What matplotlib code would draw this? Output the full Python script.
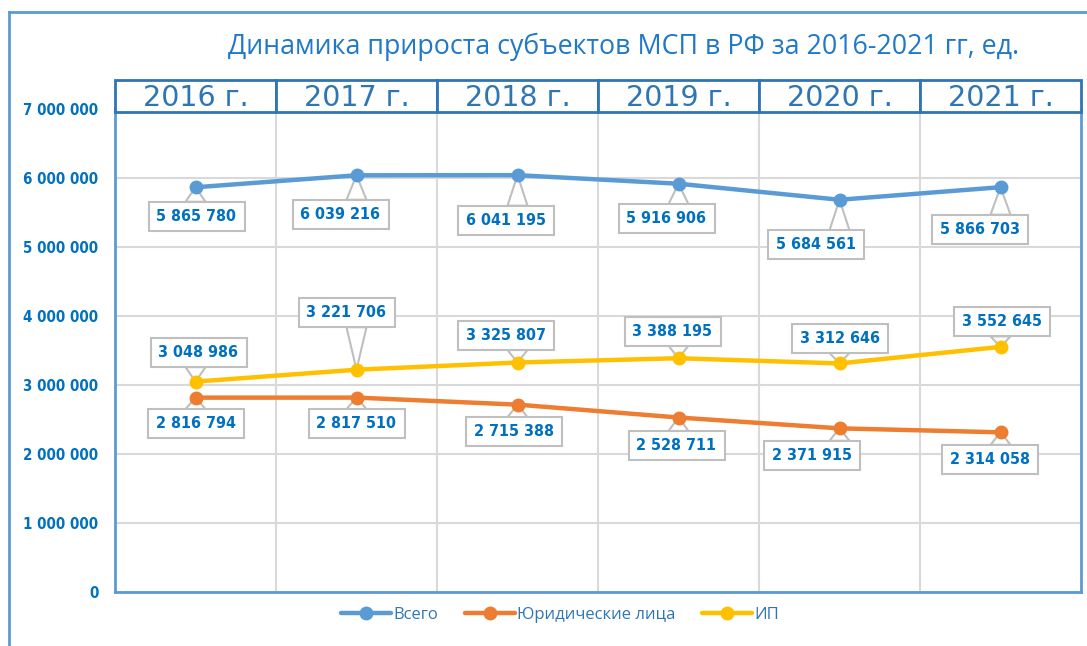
import matplotlib
matplotlib.use("Agg")
import matplotlib.pyplot as plt
from matplotlib.patches import Rectangle, Polygon
from matplotlib.lines import Line2D
from matplotlib.transforms import IdentityTransform

years = ["2016 г.", "2017 г.", "2018 г.", "2019 г.", "2020 г.", "2021 г."]
vsego = [5865780, 6039216, 6041195, 5916906, 5684561, 5866703]
yur = [2816794, 2817510, 2715388, 2528711, 2371915, 2314058]
ip = [3048986, 3221706, 3325807, 3388195, 3312646, 3552645]
series_names = ["Всего", "Юридические лица", "ИП"]
yticks = [0, 1000000, 2000000, 3000000, 4000000, 5000000, 6000000, 7000000]
title = "Динамика прироста субъектов МСП в РФ за 2016-2021 гг, ед."

colors = ["#5B9BD5", "#ED7D31", "#FFC000"]
# label box-center offsets (pixels, y up) from each point
off_vsego = [(1, -29), (-16, -39), (-12, -45), (-12, -35), (-24, -45), (-21, -42)]
off_ip = [(3, 29), (-10, 57), (-12, 27), (-6, 27), (0, 25), (1, 25)]
off_yur = [(0, -26), (0, -26), (-4, -27), (-2, -28), (-28, -27), (-11, -27)]

W, H = 1087, 646
fig = plt.figure(figsize=(W / 100, H / 100), dpi=100)
ax = fig.add_axes([115 / W, 1 - 592 / H, 966 / W, 483 / H])

def fmt(v):
    return f"{v:,}".replace(",", " ")

x = list(range(len(years)))
blue_txt = "#0070C0"
ident = IdentityTransform()

ax.set_xlim(-0.5, len(years) - 0.5)
ax.set_ylim(0, 7000000)

BW, BH, BASE = 96, 29, 20

def callout(px, py, cx, cy, text):
    l, r, b, t = cx - BW / 2, cx + BW / 2, cy - BH / 2, cy + BH / 2
    bc = min(max(px, l + BASE / 2 + 4), r - BASE / 2 - 4)
    edge = t if py > cy else b
    poly = Polygon([(bc - BASE / 2, edge), (px, py), (bc + BASE / 2, edge)], closed=True,
                   transform=ident, fc="white", ec="#BFBFBF", lw=1.5, zorder=2.6,
                   clip_on=False)
    ax.add_artist(poly)
    rect = Rectangle((l, b), BW, BH, transform=ident, fc="white", ec="#BFBFBF", lw=1.5,
                     zorder=5, clip_on=False)
    ax.add_artist(rect)
    ax.text(cx, cy, text, transform=ident, ha="center", va="center", fontsize=11.5,
            fontweight="bold", family="DejaVu Sans", fontstretch="condensed",
            color=blue_txt, zorder=6, clip_on=False)

for data, col, name, offs in [(vsego, colors[0], series_names[0], off_vsego),
                              (yur, colors[1], series_names[1], off_yur),
                              (ip, colors[2], series_names[2], off_ip)]:
    ax.plot(x, data, color=col, lw=3.2, marker="o", ms=9, zorder=3,
            solid_capstyle="round", label=name)
    for xi, v, (dx, dy) in zip(x, data, offs):
        px, py = ax.transData.transform((xi, v))
        callout(px, py, px + dx, py + dy, fmt(v))

ax.set_yticks(yticks)
ax.set_yticklabels([fmt(v) for v in yticks], fontsize=10.8, fontweight="bold",
                   family="DejaVu Sans", fontstretch="condensed", color=blue_txt)
ax.set_xticks([i + 0.5 for i in range(len(years) - 1)])
ax.set_xticklabels([])
ax.tick_params(axis="both", length=0, pad=12)
ax.grid(True, color="#D9D9D9", lw=1.5)
ax.set_axisbelow(True)
for s in ["left", "bottom", "right"]:
    ax.spines[s].set_color("#5B9BD5")
    ax.spines[s].set_linewidth(2)
ax.spines["top"].set_visible(False)

# header table
hx0, hx1, hy0, hy1 = 115 / W, 1081 / W, 1 - 112 / H, 1 - 80 / H
cw = (hx1 - hx0) / len(years)
for i, yl in enumerate(years):
    fig.add_artist(Rectangle((hx0 + i * cw, hy0), cw, hy1 - hy0, transform=fig.transFigure,
                             fc="white", ec="#2E75B6", lw=2, zorder=6))
    fig.text(hx0 + (i + 0.5) * cw, (hy0 + hy1) / 2 - 0.003, yl, ha="center", va="center",
             fontsize=20.5, family="DejaVu Sans", color="#2E75B6", zorder=7)

# title
fig.text(624 / W, 1 - 47 / H, title, ha="center", va="center", fontsize=19.3,
         family=["Open Sans", "DejaVu Sans"], color="#1F78C8")

# outer frame (left & top)
fig.add_artist(Line2D([9 / W, 9 / W], [0, 1 - 12 / H], transform=fig.transFigure,
                      color="#5B9BD5", lw=2))
fig.add_artist(Line2D([9 / W, 1], [1 - 12 / H, 1 - 12 / H], transform=fig.transFigure,
                      color="#5B9BD5", lw=2))

leg = fig.legend(loc="center", bbox_to_anchor=(560 / W, 1 - 615 / H), ncol=3, frameon=False,
                 handlelength=3, handletextpad=0.15, columnspacing=1.6,
                 prop={"family": ["Open Sans", "DejaVu Sans"], "size": 12})
for t in leg.get_texts():
    t.set_color("#2E75B6")

fig.savefig("out.png", dpi=100)
